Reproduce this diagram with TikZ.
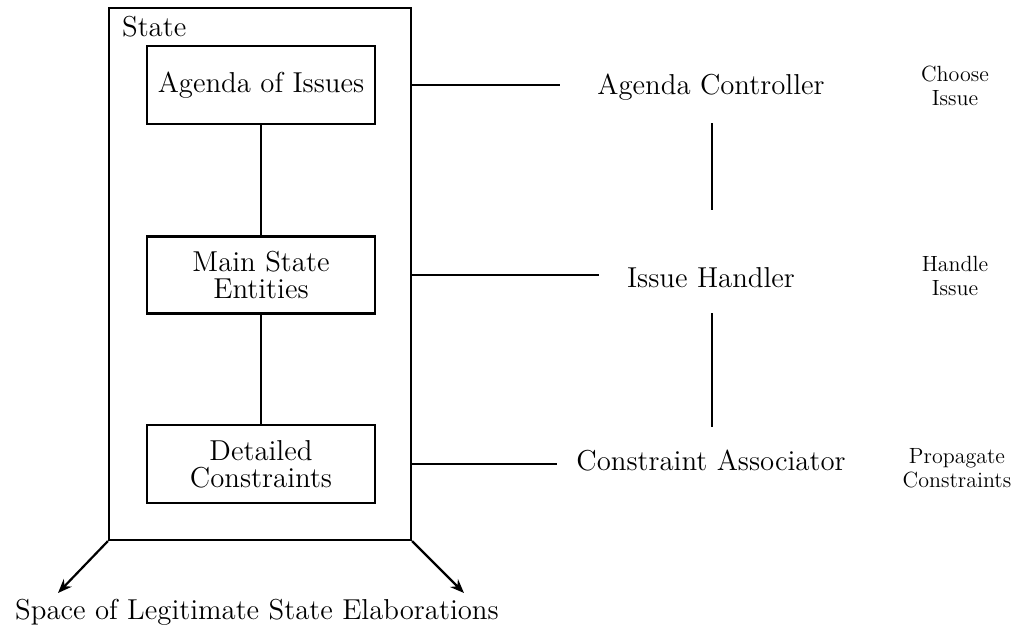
\documentclass[tikz,border=0pt]{standalone}
\usetikzlibrary{arrows.meta}
\begin{document}
\begin{tikzpicture}[x=0.5pt,y=-0.5pt,line width=1.1pt,
  bigtext/.style={font=\fontsize{14.4}{13.5}\selectfont,align=center,inner sep=0pt},
  smalltext/.style={font=\fontsize{11}{12}\selectfont,align=center,inner sep=0pt},
  innerbox/.style={draw,bigtext,minimum width=114pt,minimum height=39pt},
  arr/.style={-{Stealth[length=7pt,width=5.5pt]}}]
\useasboundingbox (0,0) rectangle (1015,631);
% state container
\node[draw,minimum width=151pt,minimum height=266pt,inner sep=0pt] (state) at (260,274) {};
\node[bigtext,anchor=base west] (statelbl) at (121,37) {State};
\node[innerbox] (agenda) at (261,85) {Agenda of Issues};
\node[innerbox,minimum height=38.5pt] (main) at (261,275) {Main State\\Entities};
\node[innerbox] (detail) at (261,464) {Detailed\\Constraints};
\draw (agenda) -- (main);
\draw (main) -- (detail);
% processes
\node[bigtext,anchor=base] (ac) at (711,95) {Agenda Controller};
\node[bigtext,anchor=base] (ih) at (711,287) {Issue Handler};
\node[bigtext,anchor=base] (ca) at (711,470) {Constraint Associator};
\coordinate (acend) at (560,85);
\coordinate (ihend) at (599,275);
\coordinate (caend) at (557,464);
\draw (state.east |- acend) -- (acend);
\draw (state.east |- ihend) -- (ihend);
\draw (state.east |- caend) -- (caend);
\coordinate (v1t) at (712,123);
\coordinate (v1b) at (712,210);
\coordinate (v2t) at (712,313);
\coordinate (v2b) at (712,427);
\draw (v1t) -- (v1b);
\draw (v2t) -- (v2b);
% functions
\node[smalltext] (choose) at (955,86) {Choose\\Issue};
\node[smalltext] (handle) at (955,276) {Handle\\Issue};
\node[smalltext] (prop) at (957,468) {Propagate\\Constraints};
% space
\node[bigtext,anchor=base] (space) at (257,619) {Space of Legitimate State Elaborations};
\coordinate (spa) at (58,593);
\coordinate (spb) at (464,593);
\draw[arr] (state.south west) -- (spa);
\draw[arr] (state.south east) -- (spb);
\end{tikzpicture}
\end{document}
